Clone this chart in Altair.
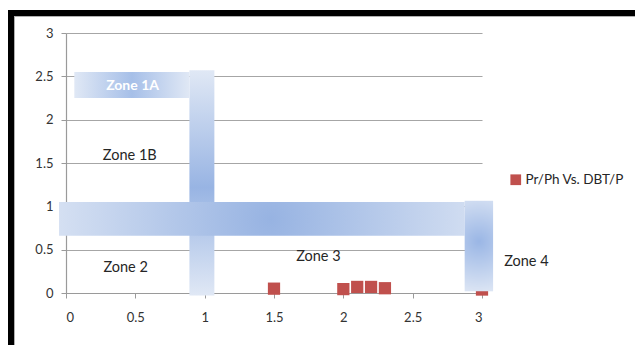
import altair as alt
import pandas as pd

# ---- data ----
x_ticks = [0, 0.5, 1, 1.5, 2, 2.5, 3]
y_ticks = [0, 0.5, 1, 1.5, 2, 2.5, 3]

series_name = "Pr/Ph Vs. DBT/P"
pt_x = [1.5, 2.0, 2.1, 2.2, 2.3, 3.0]
pt_y = [0.05, 0.045, 0.07, 0.07, 0.055, 0.04]

zone_names = ["bar1", "zone1A", "band", "zone4"]
zone_x1 = [0.89, 0.06, -0.05, 2.875]
zone_x2 = [1.07, 0.89, 2.875, 3.08]
zone_y1 = [-0.03, 2.25, 0.66, 0.02]
zone_y2 = [2.57, 2.55, 1.05, 1.065]

label_text = ["Zone 1A", "Zone 1B", "Zone 2", "Zone 3", "Zone 4"]
label_x = [0.48, 0.46, 0.43, 1.82, 3.32]
label_y = [2.39, 1.58, 0.29, 0.41, 0.36]

# ---- styles ----
LIGHT = "#e0e8f5"
DARK = "#98b4e3"
FONT = "Lato"

def stops(points):
    return [alt.GradientStop(color=c, offset=o) for o, c in points]

gradients = {
    "bar1": alt.LinearGradient(gradient="linear", x1=0, y1=0, x2=0, y2=1,
                               stops=stops([(0, LIGHT), (0.52, DARK), (1, LIGHT)])),
    "zone1A": alt.LinearGradient(gradient="linear", x1=0, y1=0, x2=1, y2=0,
                                 stops=stops([(0, LIGHT), (0.5, "#a6bfe8"), (1, LIGHT)])),
    "band": alt.RadialGradient(gradient="radial", x1=0.52, y1=0.5, r1=0, x2=0.52, y2=0.5, r2=0.62,
                               stops=stops([(0, "#97b3e2"), (1, LIGHT)])),
    "zone4": alt.RadialGradient(gradient="radial", x1=0.5, y1=0.45, r1=0, x2=0.5, y2=0.45, r2=0.6,
                                stops=stops([(0, "#9ab6e5"), (1, LIGHT)])),
}

xscale = alt.Scale(domain=[0, 3], nice=False, zero=False)
yscale = alt.Scale(domain=[0, 3], nice=False, zero=False)
xaxis = alt.Axis(values=x_ticks, format="~g", title=None, grid=False)
yaxis = alt.Axis(values=y_ticks, format="~g", title=None, grid=True)

points_df = pd.DataFrame({"x": pt_x, "y": pt_y, "series": [series_name] * len(pt_x)})
zones_df = pd.DataFrame({"name": zone_names, "x1": zone_x1, "x2": zone_x2,
                         "y1": zone_y1, "y2": zone_y2})
labels_df = pd.DataFrame({"text": label_text, "x": label_x, "y": label_y})

points = alt.Chart(points_df).mark_square(size=150, opacity=1, filled=True).encode(
    x=alt.X("x:Q", scale=xscale, axis=xaxis),
    y=alt.Y("y:Q", scale=yscale, axis=yaxis),
    color=alt.Color("series:N",
                    scale=alt.Scale(domain=[series_name], range=["#c0504d"]),
                    legend=alt.Legend(title=None, orient="none", legendX=443, legendY=140,
                                      symbolType="square", symbolSize=115,
                                      labelFontSize=13.5, labelFont=FONT,
                                      labelColor="#262626", labelOffset=3)),
)

zone_layers = []
for nm in zone_names:
    zone_layers.append(
        alt.Chart(zones_df).transform_filter(alt.datum.name == nm)
        .mark_rect(color=gradients[nm], opacity=1)
        .encode(
            x=alt.X("x1:Q", scale=xscale, axis=xaxis), x2="x2:Q",
            y=alt.Y("y1:Q", scale=yscale, axis=yaxis), y2="y2:Q",
        )
    )

text_dark = alt.Chart(labels_df).transform_filter(alt.datum.text != "Zone 1A").mark_text(
    font=FONT, fontSize=14.5, color="#262626", align="center", baseline="middle"
).encode(
    x=alt.X("x:Q", scale=xscale, axis=xaxis),
    y=alt.Y("y:Q", scale=yscale, axis=yaxis),
    text="text:N",
)
text_white = alt.Chart(labels_df).transform_filter(alt.datum.text == "Zone 1A").mark_text(
    font=FONT, fontSize=14, fontWeight="bold", color="#ffffff", align="center", baseline="middle"
).encode(
    x=alt.X("x:Q", scale=xscale, axis=xaxis),
    y=alt.Y("y:Q", scale=yscale, axis=yaxis),
    text="text:N",
)

frame_df = pd.DataFrame({"k": [0]})
frame_top = alt.Chart(frame_df).mark_rect(color="black").encode(
    x=alt.value(-58), x2=alt.value(570), y=alt.value(-23), y2=alt.value(-17))
frame_left = alt.Chart(frame_df).mark_rect(color="black").encode(
    x=alt.value(-58), x2=alt.value(-52), y=alt.value(-23), y2=alt.value(312))
shade_top = alt.Chart(frame_df).mark_rect(color="#b0b0b0").encode(
    x=alt.value(-52), x2=alt.value(570), y=alt.value(-17), y2=alt.value(-16))
shade_left = alt.Chart(frame_df).mark_rect(color="#b0b0b0").encode(
    x=alt.value(-52), x2=alt.value(-51), y=alt.value(-17), y2=alt.value(312))

chart = alt.layer(
    points, *zone_layers, text_dark, text_white,
    frame_top, frame_left, shade_top, shade_left,
).properties(
    width=416, height=260,
    padding={"left": 66, "top": 33, "right": 153, "bottom": 52},
    autosize=alt.AutoSizeParams(type="none"),
    background="white",
).configure_view(stroke=None).configure_axis(
    labelFont=FONT, labelFontSize=13, labelColor="#333333",
    domainColor="#9a9a9a", tickColor="#9a9a9a", gridColor="#a6a6a6",
    domainWidth=1.2, gridWidth=1.2, tickSize=5,
).configure_axisY(labelPadding=8).configure_axisX(labelPadding=13)

chart.save("out.html", embed_options={"renderer": "svg", "actions": False})
